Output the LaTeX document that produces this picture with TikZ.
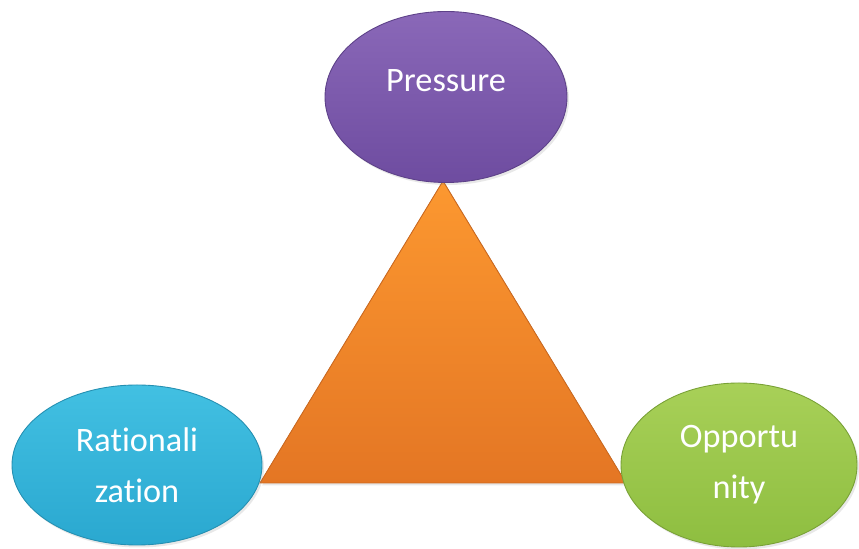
\documentclass[tikz,border=0pt]{standalone}
\usepackage{fontspec}
\setmainfont{Carlito}[Ligatures={NoCommon}]
\usepackage{tikz}
\usetikzlibrary{shapes.geometric,shadows}
\definecolor{ptop}{RGB}{138,104,184}
\definecolor{pbot}{RGB}{110,76,160}
\definecolor{rtop}{RGB}{66,192,226}
\definecolor{rbot}{RGB}{42,168,208}
\definecolor{otop}{RGB}{168,208,88}
\definecolor{obot}{RGB}{142,190,64}
\definecolor{ttop}{RGB}{252,152,48}
\definecolor{tbot}{RGB}{228,118,36}

\begin{document}
\begin{tikzpicture}[
  bubble/.style={ellipse,draw,line width=0.5pt,align=center,text=white,
    font=\fontsize{19.5}{29}\selectfont,inner sep=0pt,
    drop shadow={opacity=0.18,shadow xshift=0.04cm,shadow yshift=-0.05cm}},
  fraud/.style={draw=tbot!90!black,line width=0.5pt,top color=ttop,bottom color=tbot,
    drop shadow={opacity=0.18,shadow xshift=0.04cm,shadow yshift=-0.05cm}}]
\useasboundingbox[fill=white] (0,0) rectangle (17.18,10.98);
% triangle behind the three ellipses
\coordinate (apex) at (8.86,7.36);
\coordinate (bl) at (5.20,1.32);
\coordinate (br) at (12.52,1.32);
\filldraw[fraud] (apex) -- (br) -- (bl) -- cycle;
\node[bubble,minimum width=4.84cm,minimum height=3.42cm,text depth=19pt,
  top color=ptop,bottom color=pbot,draw=pbot!85!black] (press) at (8.92,9.04) {Pressure};
\node[bubble,minimum width=5.0cm,minimum height=3.2cm,
  top color=rtop,bottom color=rbot,draw=rbot!85!black] (ratio) at (2.74,1.68) {Rationali\\zation};
\node[bubble,minimum width=4.72cm,minimum height=3.28cm,
  top color=otop,bottom color=obot,draw=obot!85!black] (oppo) at (14.78,1.68) {Opportu\\nity};
\end{tikzpicture}
\end{document}
